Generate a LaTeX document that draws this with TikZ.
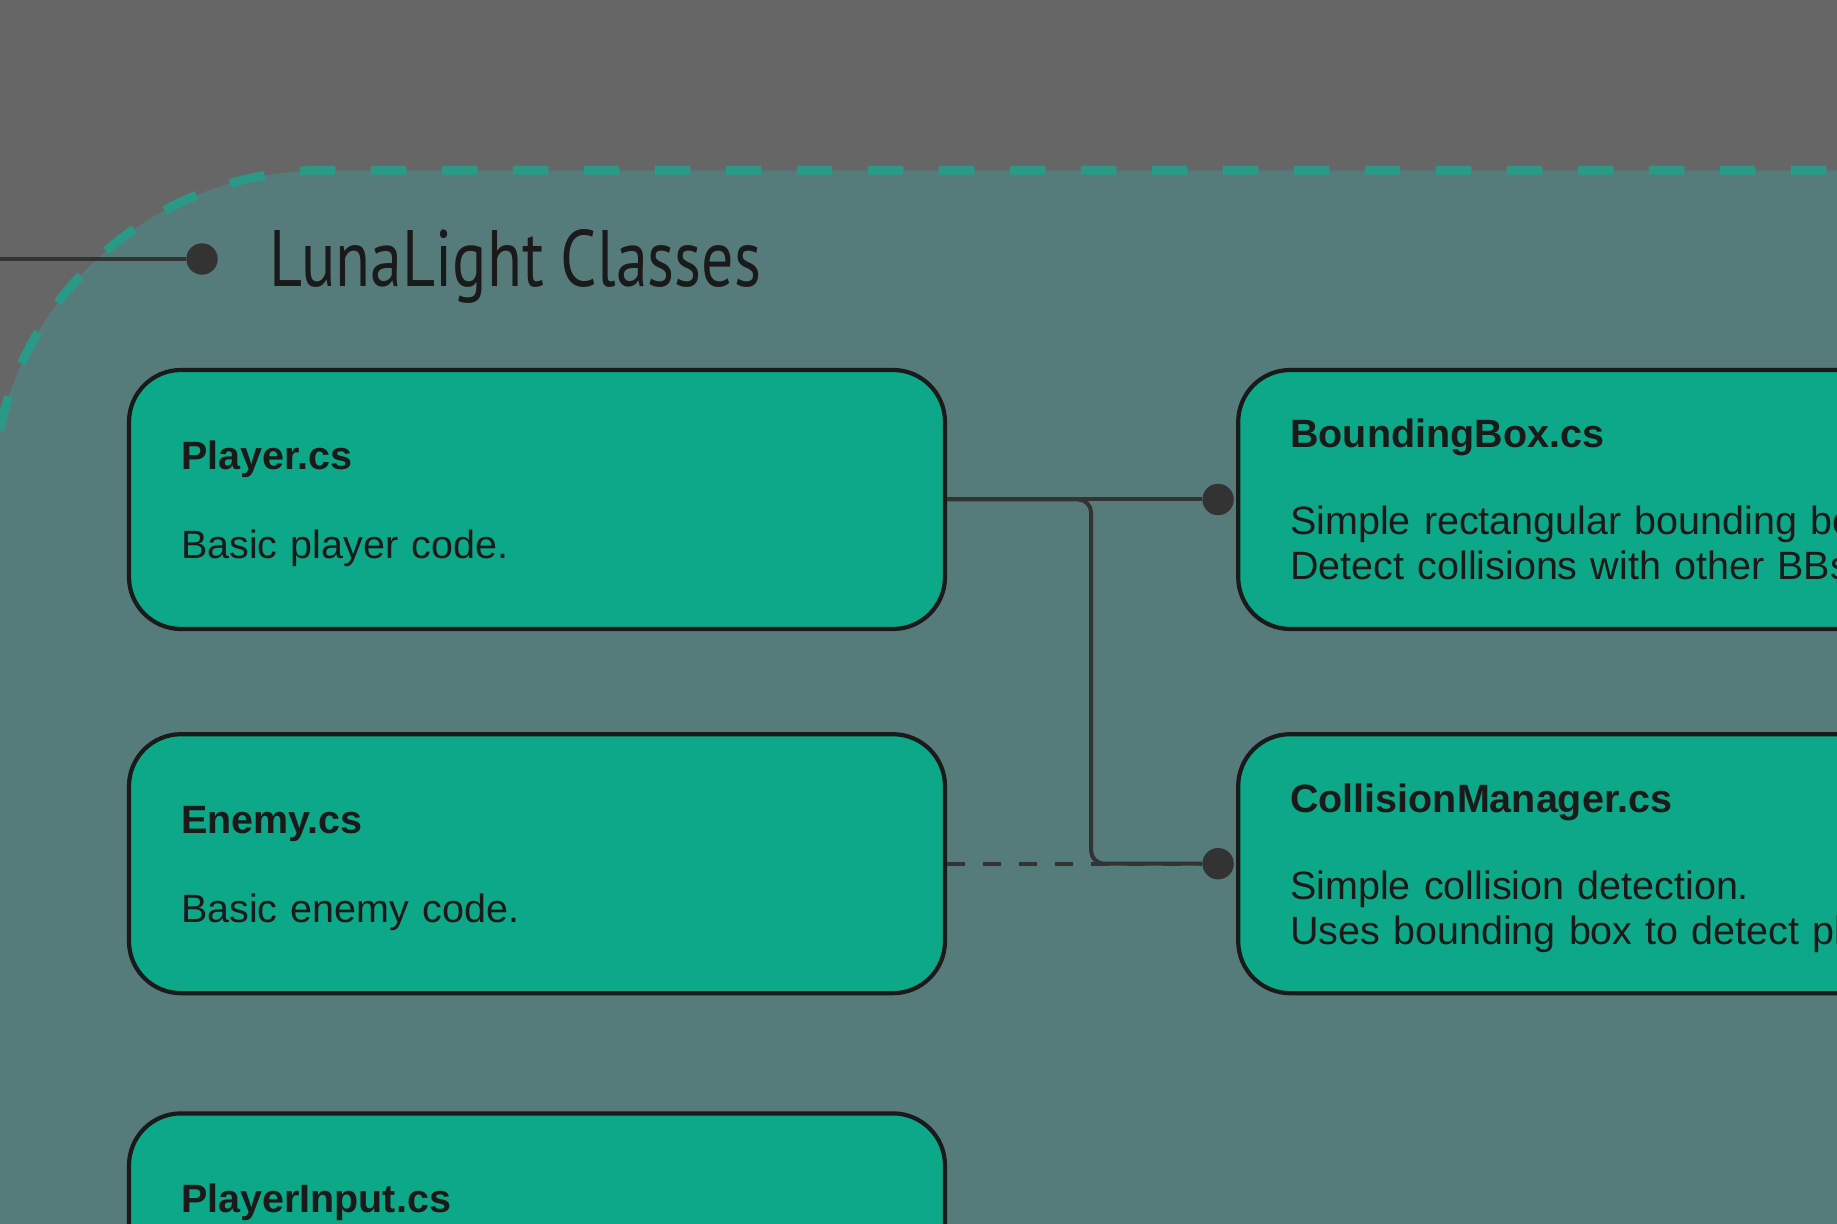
\documentclass[tikz,border=0pt]{standalone}
\usepackage{fontspec}
\setmainfont{Liberation Sans}
\newfontfamily\titlefont[FakeStretch=0.8]{PT Sans}
\usetikzlibrary{positioning, arrows.meta}
\definecolor{pagebg}{HTML}{666666}
\definecolor{groupbg}{HTML}{567B7B}
\definecolor{groupline}{HTML}{2A9A86}
\definecolor{classfill}{HTML}{0DA888}
\definecolor{inkdark}{HTML}{1A1A1A}
\definecolor{wiregray}{HTML}{333333}
\tikzset{
    classbox/.style={rectangle, rounded corners=26pt, draw=inkdark, line width=2.1pt,
        fill=classfill, text=inkdark, minimum width=408pt, minimum height=129.5pt,
        text width=356pt, inner xsep=26pt, align=left,
        execute at end node=\strut,
        font=\fontsize{19.75}{22.5}\selectfont}, % Class cards
    groupframe/.style={rounded corners=165pt, fill=groupbg, draw=groupline,
        line width=4.5pt, dash pattern=on 17.75pt off 17.75pt}, % Dashed group
    wire/.style={draw=wiregray, line width=2pt}, % Connectors
    dot/.style={circle, fill=wiregray, inner sep=0pt, minimum size=15.7pt}, % End dots
}
\newcommand{\classname}[1]{\rule{0pt}{21.1pt}\textbf{#1}}

\begin{document}
\begin{tikzpicture}[x=0.5pt, y=-0.5pt]
    \useasboundingbox (0,0) rectangle (1837,1224);
    \clip (0,0) rectangle (1837,1224);
    \fill[pagebg] (0,0) rectangle (1837,1224);
    \draw[groupframe] (-8,170.5) rectangle (2200,1600);

    % group title
    \coordinate (groupin) at (-20,259);
    \node[dot] (titledot) at (202,259) {};
    \node[anchor=base west, inner sep=0pt, text=inkdark,
          font=\titlefont\fontsize{40}{48}\selectfont] (grouptitle) at (269,287) {LunaLight Classes};

    % classes
    \node[classbox] (player) at (537,499.5) {\classname{Player.cs}\\[22pt]Basic player code.};
    \node[classbox] (enemy) [below=50.5pt of player] {\classname{Enemy.cs}\\[22pt]Basic enemy code.};
    \node[classbox] (input) [below=58pt of enemy] {\classname{PlayerInput.cs}\\[22pt]\mbox{}};
    \node[classbox] (bbox) [right=144.5pt of player] {\classname{BoundingBox.cs}\\[21pt]Simple rectangular bounding box.\\Detect collisions with other BBs.};
    \node[classbox] (collide) [below=50.5pt of bbox] {\classname{CollisionManager.cs}\\[21pt]Simple collision detection.\\Uses bounding box to detect player.};

    \node[dot] (bbdot) at ([xshift=-9pt]bbox.west) {};
    \node[dot] (cmdot) at ([xshift=-9pt]collide.west) {};
    \coordinate (split) at ([xshift=72pt]player.east);

    \draw[wire] (groupin) -- (titledot);
    \draw[wire] (player.east) -- (bbdot);
    \draw[wire, rounded corners=6.5pt] (player.east) -- (split) |- (cmdot);
    \draw[wire, dash pattern=on 9pt off 9pt] (enemy.east) -- (cmdot);
\end{tikzpicture}
\end{document}
